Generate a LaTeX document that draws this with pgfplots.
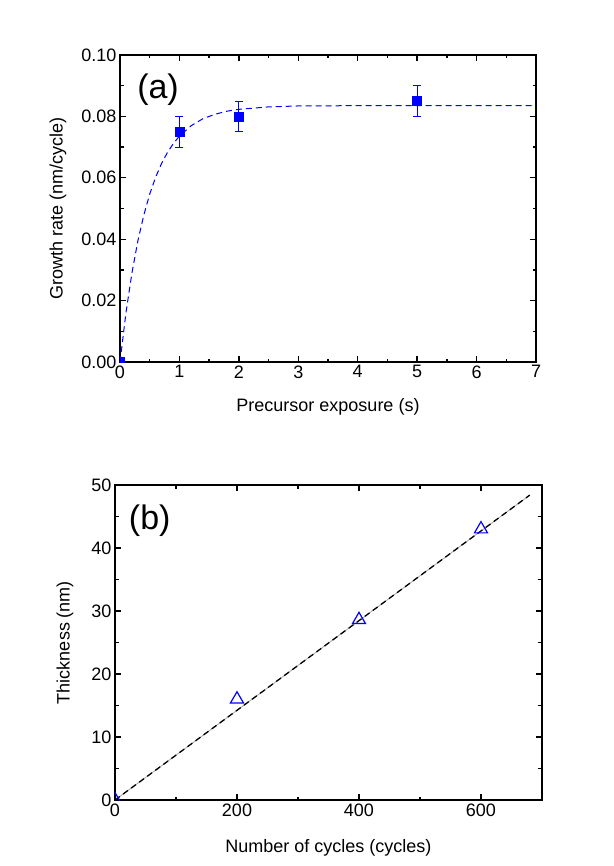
\documentclass[border=0pt]{standalone}
\usepackage{fontspec}
\setmainfont{Liberation Sans}
\usepackage{pgfplots}
\pgfplotsset{compat=1.18}
\definecolor{ptblue}{RGB}{0,0,255}

\pgfplotsset{
  panel/.style={
    scale only axis,
    axis line style={line width=1.5pt},
    every tick/.style={line width=1.3pt, black},
    major tick length=6pt, minor tick length=3.5pt,
    tick align=inside,
    clip marker paths=true,
    tick label style={font=\fontsize{18}{21}\selectfont},
    label style={font=\fontsize{18}{21}\selectfont},
    /pgf/number format/assume math mode=true,
  },
}

\begin{document}
\begin{tikzpicture}
\useasboundingbox (0,0) rectangle (613pt,-866pt);

% (a) growth rate vs exposure
\begin{axis}[panel,
  at={(120pt,-55pt)}, anchor=north west,
  width=416pt, height=307pt,
  xmin=0, xmax=7, ymin=0, ymax=0.1,
  xtick={0,1,...,7}, minor x tick num=1,
  ytick={0,0.02,0.04,0.06,0.08,0.1}, minor y tick num=1,
  yticklabel style={/pgf/number format/.cd, fixed, fixed zerofill, precision=2},
  scaled y ticks=false,
  xlabel={Precursor exposure (s)},
  ylabel={Growth rate (nm/cycle)},
  xlabel style={at={(axis description cs:0.5,-0.147)}, anchor=center},
  ylabel style={at={(axis description cs:-0.149,0.5)}, anchor=center},
]
\addplot[ptblue, line width=1pt, dash pattern=on 6pt off 4pt]
  coordinates {(0,0)(0.1,0.0160)(0.2,0.0289)(0.3,0.0394)(0.4,0.0478)(0.5,0.0547)
  (0.6,0.0602)(0.7,0.0647)(0.8,0.0683)(0.9,0.0712)(1.0,0.0736)(1.2,0.0770)(1.4,0.0793)
  (1.6,0.0807)(1.8,0.0817)(2.0,0.0823)(2.5,0.0831)(3.0,0.0834)(4.0,0.0835)(7.0,0.0835)};
\addplot[ptblue, only marks, mark=square*, mark size=4.5pt,
  error bars/.cd, y dir=both, y explicit,
  error bar style={line width=0.9pt, ptblue},
  error mark options={rotate=90, mark size=4pt, line width=0.9pt, ptblue}]
  coordinates {(0,0)+-(0,0)(1,0.075)+-(0,0.005)(2,0.080)+-(0,0.005)(5,0.085)+-(0,0.005)};
\node[font=\fontsize{34}{38}\selectfont, anchor=center] at (axis cs:0.64,0.0888) {(a)};
\end{axis}

% (b) thickness vs cycles
\begin{axis}[panel,
  at={(115pt,-485pt)}, anchor=north west,
  width=427pt, height=315pt,
  xmin=0, xmax=700, ymin=0, ymax=50,
  xtick={0,200,400,600}, minor x tick num=1,
  ytick={0,10,...,50}, minor y tick num=1,
  xlabel={Number of cycles (cycles)},
  ylabel={Thickness (nm)},
  xlabel style={at={(axis description cs:0.5,-0.152)}, anchor=center},
  ylabel style={at={(axis description cs:-0.117,0.5)}, anchor=center},
]
\addplot[gray!70, line width=0.8pt] coordinates {(0,0)(680,48.4)};
\addplot[black, line width=1.3pt, dash pattern=on 6pt off 4pt] coordinates {(0,0)(680,48.4)};
\addplot[ptblue, only marks, mark=triangle, mark size=7.5pt, mark options={line width=1.2pt}]
  coordinates {(0,0)(200,16.0)(400,28.6)(600,43.0)};
\node[font=\fontsize{34}{38}\selectfont, anchor=center] at (axis cs:57,44.4) {(b)};
\end{axis}
\end{tikzpicture}
\end{document}
